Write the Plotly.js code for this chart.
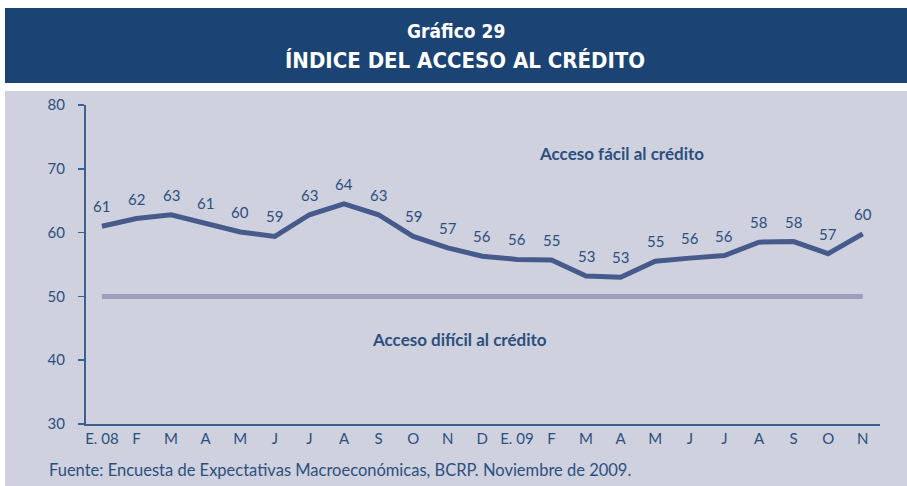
<!DOCTYPE html>
<html><head><meta charset="utf-8">
<script src="https://cdn.plot.ly/plotly-3.0.1.min.js"></script>
<style>html,body{margin:0;padding:0;background:#fff}#chart{width:907px;height:486px}</style>
</head><body><div id="chart"></div>
<script>
const categories = ["E. 08","F","M","A","M","J","J","A","S","O","N","D","E. 09","F","M","A","M","J","J","A","S","O","N"];
const values = [61.0,62.2,62.8,61.5,60.1,59.4,62.8,64.5,62.8,59.4,57.6,56.3,55.8,55.7,53.2,53.0,55.5,56.0,56.4,58.5,58.6,56.7,59.8];
const labels = ["61","62","63","61","60","59","63","64","63","59","57","56","56","55","53","53","55","56","56","58","58","57","60"];
const threshold = 50;
const yTicks = [30,40,50,60,70,80];

const idx = categories.map((c,i)=>i);
const textColor = "#2C4F7E";
const font = "Lato, 'Open Sans', sans-serif";
const condFont = "'DejaVu Sans Condensed', 'Liberation Sans Narrow', sans-serif";

const traces = [
  {x:[0, idx.length-1], y:[threshold, threshold], mode:"lines", line:{color:"#9D9EBD", width:5}, hoverinfo:"skip", showlegend:false},
  {x:idx, y:values, mode:"lines", line:{color:"#465B8B", width:5}, hoverinfo:"skip", showlegend:false}
];

const L=86, R=880, T=105, B=424;
function px(p){return (p-L)/(R-L);} function py(p){return (B-p)/(B-T);}

const annotations = idx.map(i=>({x:i, y:values[i], text:labels[i], showarrow:false, yshift:20, xref:"x", yref:"y",
  xanchor:"center", yanchor:"middle", font:{family:font, size:15, color:textColor}}));
function pa(x, y, text, f, xa){ return {x:px(x), y:py(y), xref:"paper", yref:"paper", text:text, showarrow:false,
  xanchor:xa||"center", yanchor:"middle", font:f}; }
annotations.push(pa(621, 153, "<b>Acceso fácil al crédito</b>", {family:font,size:17,color:textColor}));
annotations.push(pa(459, 339, "<b>Acceso difícil al crédito</b>", {family:font,size:17,color:textColor}));
annotations.push(pa(456, 31, "<b>Gráfico 29</b>", {family:condFont, size:19, color:"#ffffff"}));
annotations.push(pa(465, 60, "<b>ÍNDICE DEL ACCESO AL CRÉDITO</b>", {family:condFont, size:22, color:"#ffffff"}));
annotations.push(pa(47, 470, "Fuente: Encuesta de Expectativas Macroeconómicas, BCRP. Noviembre de 2009.", {family:font,size:16.5,color:textColor}, "left"));

const shapes = [
 {type:"rect", xref:"paper", yref:"paper", x0:px(5), x1:px(910), y0:py(83), y1:py(8), fillcolor:"#1B4474", line:{width:0}, layer:"below"},
 {type:"rect", xref:"paper", yref:"paper", x0:px(5), x1:px(910), y0:py(490), y1:py(91), fillcolor:"#CFD1DF", line:{width:0}, layer:"below"}
];

const layout = {
  width:907, height:486,
  margin:{l:L, r:907-R, t:T, b:486-B},
  paper_bgcolor:"#ffffff", plot_bgcolor:"rgba(0,0,0,0)",
  showlegend:false,
  xaxis:{range:[-0.46,22.5], tickvals:idx, ticktext:categories, showgrid:false, zeroline:false,
    showline:true, linecolor:"#3E5F92", linewidth:2, ticks:"", tickfont:{family:font,size:15,color:textColor}, fixedrange:true},
  yaxis:{range:[30,80], tickvals:yTicks, showgrid:false, zeroline:false, showline:true, linecolor:"#3E5F92", linewidth:2,
    ticks:"outside", ticklen:6, tickwidth:1.5, tickcolor:"#3E5F92", ticklabelstandoff:10, tickfont:{family:font,size:15,color:textColor}, fixedrange:true},
  annotations:annotations, shapes:shapes
};
Plotly.newPlot("chart", traces, layout, {displayModeBar:false, staticPlot:true});
</script></body></html>
